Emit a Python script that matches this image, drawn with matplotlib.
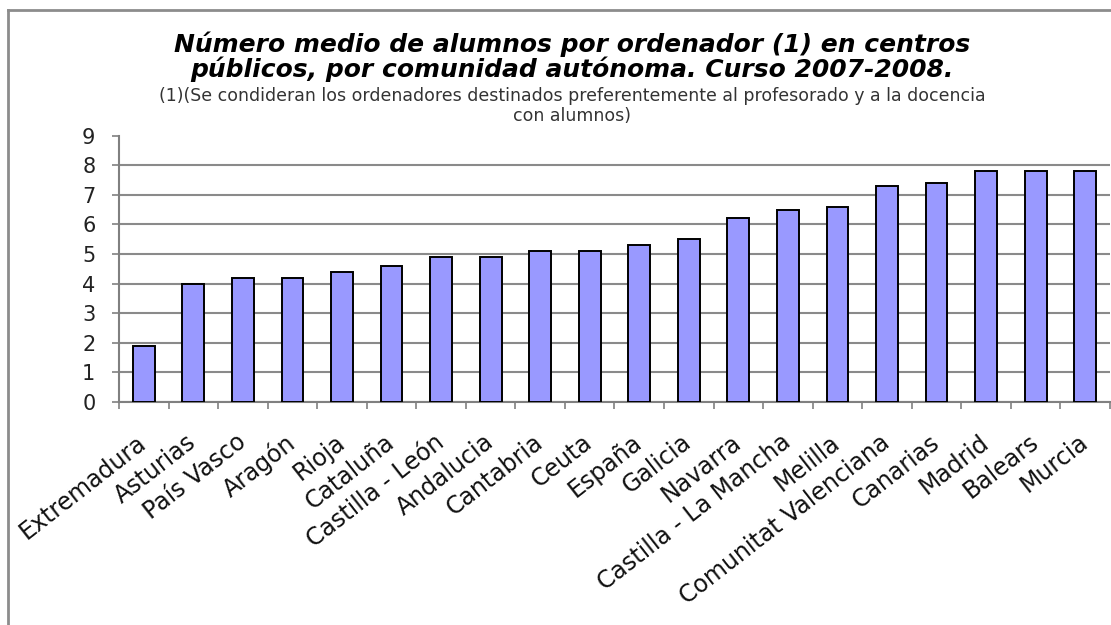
"""Número medio de alumnos por ordenador en centros públicos, curso 2007-2008."""

import matplotlib

matplotlib.use("Agg")
import matplotlib.pyplot as plt
import numpy as np
from matplotlib.lines import Line2D
from matplotlib.ticker import FixedLocator

plt.rcParams["font.family"] = ["DejaVu Sans"]

comunidades = [
    "Extremadura", "Asturias", "País Vasco", "Aragón", "Rioja", "Cataluña",
    "Castilla - León", "Andalucia", "Cantabria", "Ceuta", "España", "Galicia",
    "Navarra", "Castilla - La Mancha", "Melilla", "Comunitat Valenciana",
    "Canarias", "Madrid", "Balears", "Murcia",
]
alumnos_por_ordenador = [
    1.9, 4.0, 4.2, 4.2, 4.4, 4.6, 4.9, 4.9, 5.1, 5.1,
    5.3, 5.5, 6.2, 6.5, 6.6, 7.3, 7.4, 7.8, 7.8, 7.8,
]
y_ticks = list(range(0, 10))

titulo = ("Número medio de alumnos por ordenador (1) en centros\n"
          "públicos, por comunidad autónoma. Curso 2007-2008.")
nota = ("(1)(Se condideran los ordenadores destinados preferentemente al profesorado y a la docencia\n"
        "con alumnos)")

fig = plt.figure(figsize=(11.11, 6.25), dpi=100)
fig.patch.set_facecolor("white")
ax = fig.add_axes([0.1071, 0.3568, 0.8920, 0.4262])

x = np.arange(len(comunidades))
ax.bar(x, alumnos_por_ordenador, width=0.44, color="#9999FF",
       edgecolor="black", linewidth=1.4, zorder=3)

ax.set_xlim(-0.5, len(comunidades) - 0.5)
ax.set_ylim(0, 9)
ax.set_yticks(y_ticks)
ax.set_yticklabels([str(t) for t in y_ticks], fontsize=15, color="#222222")
ax.yaxis.grid(True, color="#8a8a8a", linewidth=1.5, zorder=0)
ax.yaxis.get_gridlines()[-1].set_visible(False)

ax.set_xticks(x)
ax.set_xticklabels(comunidades, rotation=38, ha="right", va="center",
                   rotation_mode="anchor", fontsize=17, color="#111111")
ax.tick_params(axis="x", which="major", length=0, pad=27)
ax.xaxis.set_minor_locator(FixedLocator(np.arange(-0.5, len(comunidades), 1.0)))
ax.tick_params(axis="x", which="minor", length=5, width=1.2, color="#808080",
               direction="out")
ax.tick_params(axis="y", length=5, width=1.2, color="#808080", direction="out", pad=12)

for side in ("top", "right"):
    ax.spines[side].set_visible(False)
for side in ("left", "bottom"):
    ax.spines[side].set_color("#808080")
    ax.spines[side].set_linewidth(1.5)

fig.text(0.515, 1 - 57 / 625, titulo, ha="center", va="center", fontsize=18,
         fontweight="bold", fontstyle="italic", linespacing=1.0)
fig.text(0.515, 1 - 106 / 625, nota, ha="center", va="center", fontsize=12.5,
         color="#333333", linespacing=1.1)

# marco gris del gráfico
fig.add_artist(Line2D([8 / 1111, 8 / 1111], [0, 1 - 10 / 625],
                      transform=fig.transFigure, color="#8c8c8c", linewidth=2))
fig.add_artist(Line2D([8 / 1111, 1], [1 - 10 / 625, 1 - 10 / 625],
                      transform=fig.transFigure, color="#8c8c8c", linewidth=2))

fig.savefig("out.png", dpi=100)
